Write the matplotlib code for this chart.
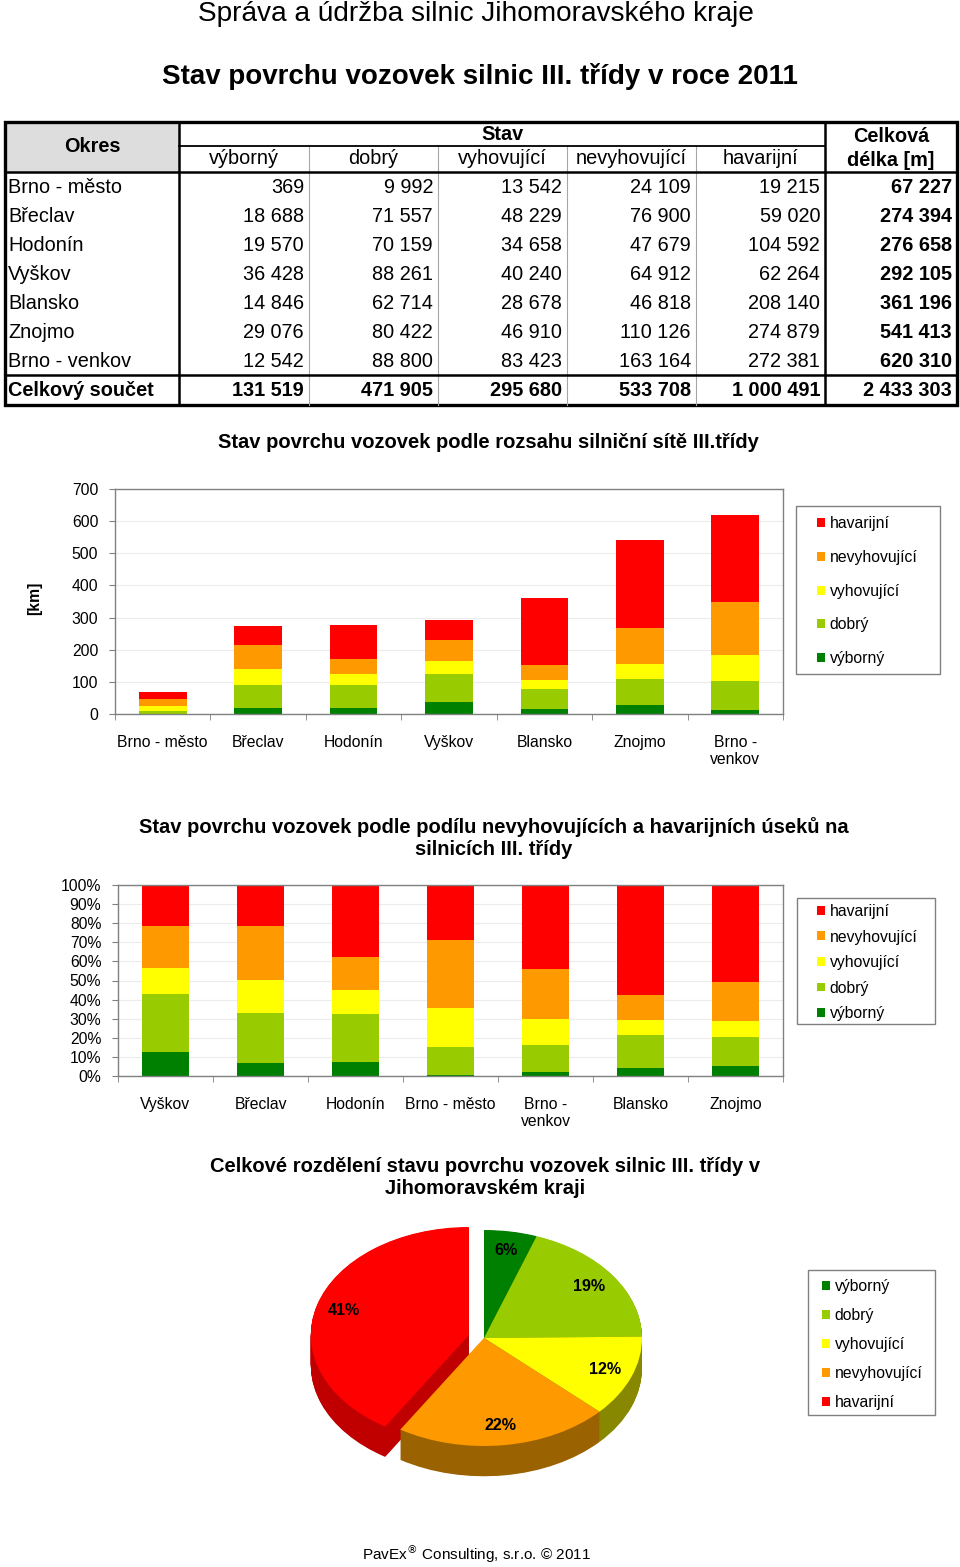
import numpy as np
import matplotlib
matplotlib.use('Agg')
import matplotlib.pyplot as plt
from matplotlib.patches import Rectangle, Patch

plt.rcParams['font.family'] = ['Liberation Sans', 'DejaVu Sans']

W, H = 960, 1567

# data (delka v metrech)
okresy = ["Brno - město", "Břeclav", "Hodonín", "Vyškov", "Blansko", "Znojmo", "Brno - venkov"]
stavy = ["výborný", "dobrý", "vyhovující", "nevyhovující", "havarijní"]
vyborny = [369, 18688, 19570, 36428, 14846, 29076, 12542]
dobry = [9992, 71557, 70159, 88261, 62714, 80422, 88800]
vyhovujici = [13542, 48229, 34658, 40240, 28678, 46910, 83423]
nevyhovujici = [24109, 76900, 47679, 64912, 46818, 110126, 163164]
havarijni = [19215, 59020, 104592, 62264, 208140, 274879, 272381]
poradi_podil = ["Vyškov", "Břeclav", "Hodonín", "Brno - město", "Brno - venkov", "Blansko", "Znojmo"]
popisky_kolac = ["6%", "19%", "12%", "22%", "41%"]

barvy = ["#008000", "#99CC00", "#FFFF00", "#FF9900", "#FF0000"]
barvy_bok = ["#004d00", "#5c7a00", "#878700", "#9a6200", "#c00000"]

M = np.array([vyborny, dobry, vyhovujici, nevyhovujici, havarijni], dtype=float)
celkem_okres = M.sum(axis=0)
celkem_stav = M.sum(axis=1)


def box(l, t, r, b):
    return [l / W, 1 - b / H, (r - l) / W, (b - t) / H]


def fx(x):
    return x / W


def fy(y):
    return 1 - y / H


def fmt(v):
    return f"{int(v):,}".replace(",", " ")


fig = plt.figure(figsize=(W / 100, H / 100), dpi=100)

# titles
fig.text(fx(476), fy(14), "Správa a údržba silnic Jihomoravského kraje", fontsize=20.2, ha='center', va='center')
fig.text(fx(480), fy(77), "Stav povrchu vozovek silnic III. třídy v roce 2011", fontsize=20,
         fontweight='bold', ha='center', va='center')

# ---- tabulka ----
tab = fig.add_axes([0, 0, 1, 1])
tab.set_xlim(0, W)
tab.set_ylim(H, 0)
tab.set_axis_off()
cx = [5, 179, 309, 438, 567, 696, 825, 957]
top, h1, h2 = 122, 146, 172
rh = 29
tot_top = h2 + rh * 7
bot = tot_top + 30
tab.add_patch(Rectangle((cx[0], top), cx[1] - cx[0], h2 - top, facecolor='#dddddd', edgecolor='none'))
for xv in cx[2:6]:
    tab.plot([xv, xv], [h1, bot], color='#a6a6a6', lw=0.8)
tab.plot([cx[1], cx[6]], [h1, h1], color='black', lw=1.3)
tab.plot([cx[0], cx[7]], [h2, h2], color='black', lw=1.8)
tab.plot([cx[0], cx[7]], [tot_top, tot_top], color='black', lw=1.8)
for xv in (cx[1], cx[6]):
    tab.plot([xv, xv], [top, bot], color='black', lw=1.8)
tab.add_patch(Rectangle((cx[0], top), cx[7] - cx[0], bot - top, fill=False, edgecolor='black', lw=2.4))

fs = 14.3
tab.text((cx[0] + cx[1]) / 2, 147, "Okres", fontsize=fs, fontweight='bold', ha='center', va='center')
tab.text((cx[1] + cx[6]) / 2, 134, "Stav", fontsize=fs, fontweight='bold', ha='center', va='center')
tab.text((cx[6] + cx[7]) / 2, 136, "Celková", fontsize=fs, fontweight='bold', ha='center', va='center')
tab.text((cx[6] + cx[7]) / 2, 161, "délka [m]", fontsize=fs, fontweight='bold', ha='center', va='center')
for j, s in enumerate(stavy):
    tab.text((cx[j + 1] + cx[j + 2]) / 2, 158, s, fontsize=fs, ha='center', va='center')
for i, o in enumerate(okresy):
    y = h2 + rh * i + rh / 2 + 1
    tab.text(8, y, o, fontsize=fs, ha='left', va='center')
    for j in range(5):
        tab.text(cx[j + 2] - 5, y, fmt(M[j, i]), fontsize=fs, ha='right', va='center')
    tab.text(cx[7] - 5, y, fmt(celkem_okres[i]), fontsize=fs, fontweight='bold', ha='right', va='center')
y = tot_top + 15
tab.text(8, y, "Celkový součet", fontsize=fs, fontweight='bold', ha='left', va='center')
for j in range(5):
    tab.text(cx[j + 2] - 5, y, fmt(celkem_stav[j]), fontsize=fs, fontweight='bold', ha='right', va='center')
tab.text(cx[7] - 5, y, fmt(celkem_stav.sum()), fontsize=fs, fontweight='bold', ha='right', va='center')

lfs = 11.3


def styl(ax, n):
    for s in ax.spines.values():
        s.set_color('#808080')
        s.set_linewidth(1)
    ax.grid(axis='y', color='#ececec', lw=0.8)
    ax.set_axisbelow(True)
    ax.set_xlim(-0.5, n - 0.5)
    ax.set_xticks(np.arange(-0.5, n, 1), minor=True)
    ax.tick_params(axis='x', which='minor', length=4, color='#808080', direction='out')
    ax.tick_params(axis='x', which='major', length=0, pad=15, labelsize=lfs)
    ax.tick_params(axis='y', length=4, color='#808080', pad=8, labelsize=lfs)


def legenda(x_handle, y_top, spacing, order, frame):
    handles = [Patch(facecolor=barvy[k], edgecolor='none') for k in order]
    labels = [stavy[k] for k in order]
    fig.legend(handles, labels, loc='upper left', bbox_to_anchor=(fx(x_handle), fy(y_top)),
               frameon=False, borderpad=0, borderaxespad=0, handlelength=0.5, handleheight=0.5,
               handletextpad=0.3, labelspacing=spacing, fontsize=lfs)
    l, t, r, b = frame
    fig.add_artist(Rectangle((fx(l), fy(b)), (r - l) / W, (b - t) / H, transform=fig.transFigure,
                             fill=False, edgecolor='#808080', lw=1))


def popisky(seznam):
    return [o.replace("Brno - venkov", "Brno -\nvenkov") for o in seznam]


# ---- graf 1: rozsah v km ----
fig.text(fx(488), fy(443), "Stav povrchu vozovek podle rozsahu silniční sítě III.třídy", fontsize=14.5,
         fontweight='bold', ha='center', va='center')
ax1 = fig.add_axes(box(115, 489, 783, 714))
x = np.arange(len(okresy))
spodek = np.zeros(len(okresy))
for j in range(5):
    ax1.bar(x, M[j] / 1000, 0.5, bottom=spodek, color=barvy[j], zorder=2)
    spodek += M[j] / 1000
ax1.set_ylim(0, 700)
ax1.set_yticks(np.arange(0, 701, 100))
ax1.set_xticks(x)
ax1.set_xticklabels(popisky(okresy))
styl(ax1, len(okresy))
fig.text(fx(35), fy(598), "[km]", rotation=90, fontsize=lfs, fontweight='bold', ha='center', va='center')
legenda(817, 516, 1.2, [4, 3, 2, 1, 0], (796, 506, 940, 674))

# ---- graf 2: podily ----
fig.text(fx(494), fy(838), "Stav povrchu vozovek podle podílu nevyhovujících a havarijních úseků na\n"
         "silnicích III. třídy", fontsize=14.5, fontweight='bold', ha='center', va='center')
ax2 = fig.add_axes(box(118, 885, 783, 1076))
idx = [okresy.index(o) for o in poradi_podil]
podil = M[:, idx] / celkem_okres[idx] * 100
spodek = np.zeros(len(idx))
for j in range(5):
    ax2.bar(x, podil[j], 0.5, bottom=spodek, color=barvy[j], zorder=2)
    spodek += podil[j]
ax2.set_ylim(0, 100)
ax2.set_yticks(np.arange(0, 101, 10))
ax2.set_yticklabels([f"{v}%" for v in range(0, 101, 10)])
ax2.set_xticks(x)
ax2.set_xticklabels(popisky(poradi_podil))
styl(ax2, len(idx))
legenda(817, 904, 0.67, [4, 3, 2, 1, 0], (797, 898, 935, 1024))

# ---- graf 3: kolac ----
fig.text(fx(485), fy(1178), "Celkové rozdělení stavu povrchu vozovek silnic III. třídy v\nJihomoravském kraji",
         fontsize=14.5, fontweight='bold', ha='center', va='center')
ax3 = fig.add_axes(box(304, 1200, 664, 1500))
explode = [0, 0, 0, 0, 0.1]
for d in np.linspace(0.28, 0.005, 45):
    ax3.pie(celkem_stav, colors=barvy_bok, startangle=90, counterclock=False, explode=explode,
            center=(0, -d), wedgeprops=dict(linewidth=0))
it = iter(popisky_kolac)
ax3.pie(celkem_stav, colors=barvy, startangle=90, counterclock=False, explode=explode,
        autopct=lambda p: next(it), pctdistance=0.82,
        textprops=dict(fontweight='bold', fontsize=11.6), wedgeprops=dict(linewidth=0))
ax3.set_aspect('auto')
ax3.set_xlim(-180 / 158, 180 / 158)
ax3.set_ylim(-162 / 108, 138 / 108)
ax3.axis('off')
legenda(822, 1279, 0.9, [0, 1, 2, 3, 4], (808, 1270, 935, 1415))

fig.text(fx(476), fy(1554), "PavEx$^{®}$ Consulting, s.r.o. © 2011", fontsize=11, ha='center', va='center')

fig.savefig("out.png", dpi=100)
